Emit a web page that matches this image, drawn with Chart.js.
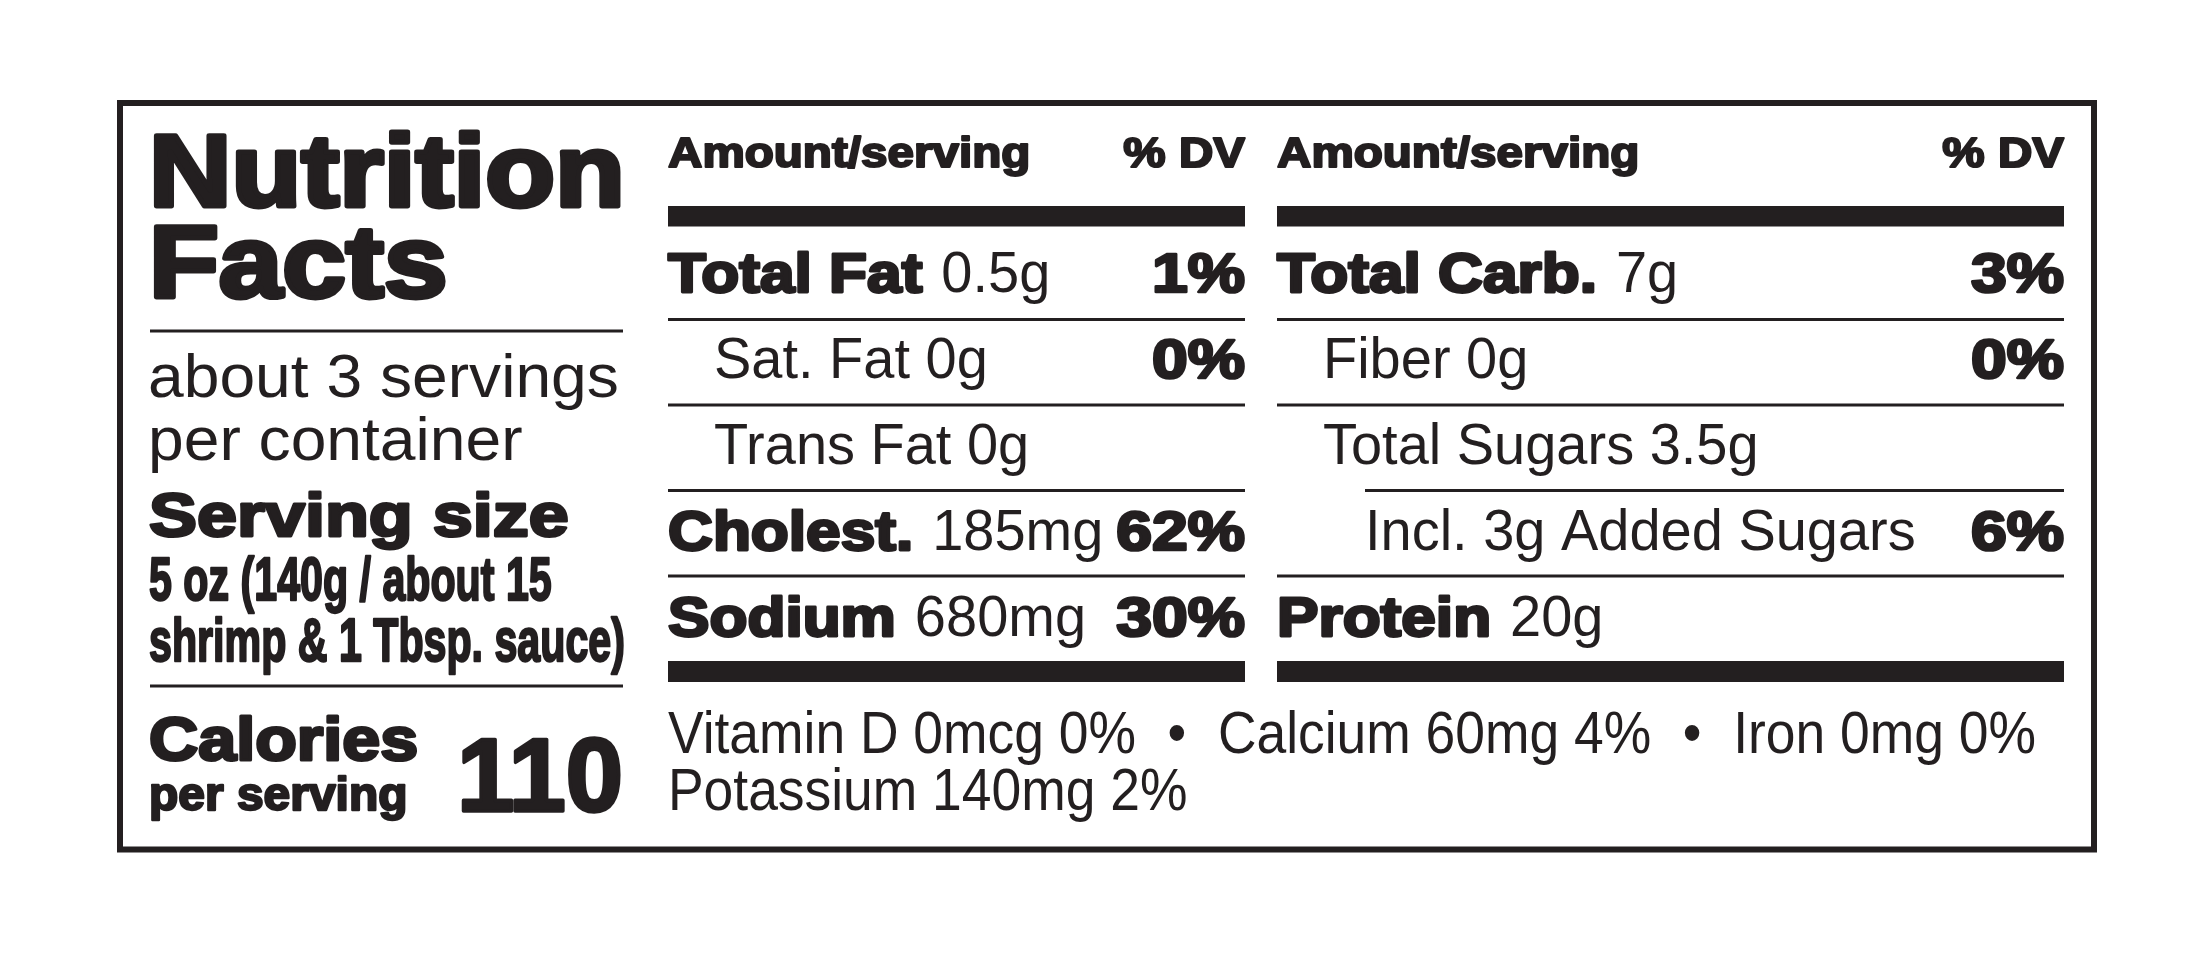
<!DOCTYPE html>
<html>
<head>
<meta charset="utf-8">
<script src="https://cdn.jsdelivr.net/npm/chart.js@4.4.1/dist/chart.umd.min.js"></script>
<style>
html,body{margin:0;padding:0;background:#fff;}
#wrap{width:2200px;height:954px;position:relative;}
</style>
</head>
<body>
<div id="wrap"><canvas id="c"></canvas></div>
<script>
// ---- data ----
const titleLines = ['Nutrition', 'Facts'];
const servingsLines = ['about 3 servings', 'per container'];
const servingSizeLabel = 'Serving size';
const servingSizeLines = ['5 oz (140g / about 15', 'shrimp & 1 Tbsp. sauce)'];
const caloriesLabel = ['Calories', 'per serving'];
const calories = 110;
const headerLabels = ['Amount/serving', '% DV'];

const leftNames   = ['Total Fat', 'Sat. Fat', 'Trans Fat', 'Cholest.', 'Sodium'];
const leftAmounts = ['0.5g', '0g', '0g', '185mg', '680mg'];
const leftDV      = [1, 0, null, 62, 30];
const leftLevel   = [0, 1, 1, 0, 0];

const rightNames   = ['Total Carb.', 'Fiber', 'Total Sugars', 'Incl. 3g Added Sugars', 'Protein'];
const rightAmounts = ['7g', '0g', '3.5g', '', '20g'];
const rightDV      = [3, 0, null, 6, null];
const rightLevel   = [0, 1, 1, 2, 0];

const microNames   = ['Vitamin D', 'Calcium', 'Iron', 'Potassium'];
const microAmounts = ['0mcg', '60mg', '0mg', '140mg'];
const microDV      = [0, 4, 0, 2];
const microLines   = [[0, 1, 2], [3]];

// ---- layout / styles ----
const INK = '#231f20';
const FAM = '"Liberation Sans", Arial, sans-serif';
const ST = {
  title: {w:'bold', size:102, sx:1.12, stroke:5.5},
  head:  {w:'bold', size:42.5, sx:1.12, stroke:2.4},
  name:  {w:'bold', size:55, sx:1.13, stroke:3.2},
  dv:    {w:'bold', size:55, sx:1.17, stroke:3.2},
  reg:   {w:'normal', size:58, sx:0.965, stroke:0},
  side:  {w:'normal', size:62, sx:1.035, stroke:0},
  serv:  {w:'bold', size:62, sx:1.16, stroke:3.4},
  cond:  {w:'bold', size:61, sx:0.675, stroke:1.6},
  cal:   {w:'bold', size:62, sx:1.10, stroke:3.4},
  per:   {w:'bold', size:47, sx:1.02, stroke:2.4},
  big:   {w:'bold', size:104, sx:0.99, stroke:3.5},
  vit:   {w:'normal', size:59, sx:0.905, stroke:0}
};

function txt(ctx, s, x, y, st, align) {
  ctx.save();
  ctx.font = st.w + ' ' + st.size + 'px ' + FAM;
  ctx.textBaseline = 'alphabetic';
  ctx.textAlign = 'left';
  const w = ctx.measureText(s).width * st.sx;
  const x0 = align === 'right' ? x - w : (align === 'center' ? x - w / 2 : x);
  ctx.translate(x0, y);
  ctx.scale(st.sx, 1);
  ctx.fillStyle = INK;
  ctx.fillText(s, 0, 0);
  if (st.stroke) {
    ctx.lineWidth = st.stroke / st.sx;
    ctx.lineJoin = 'round';
    ctx.strokeStyle = INK;
    ctx.strokeText(s, 0, 0);
  }
  ctx.restore();
  return w;
}

const labelPlugin = {
  id: 'label',
  afterDraw(chart) {
    const ctx = chart.ctx;
    const xs = chart.scales.x, ys = chart.scales.y;
    const X = v => xs.getPixelForValue(v);
    const Y = v => ys.getPixelForValue(v);
    const rect = (x1, y1, x2, y2) => {
      ctx.fillStyle = INK;
      ctx.fillRect(X(x1), Y(y1), X(x2) - X(x1), Y(y2) - Y(y1));
    };
    ctx.save();
    // outer frame
    ctx.strokeStyle = INK;
    ctx.lineWidth = 6;
    ctx.strokeRect(X(120), Y(103), X(2094) - X(120), Y(849.5) - Y(103));

    // left column
    const L = 149, LR = 623;
    txt(ctx, titleLines[0], X(L), Y(206), ST.title);
    txt(ctx, titleLines[1], X(L), Y(297), ST.title);
    rect(L + 1, 329.5, LR, 332.5);
    txt(ctx, servingsLines[0], X(L - 1), Y(397), ST.side);
    txt(ctx, servingsLines[1], X(L - 1), Y(460), ST.side);
    txt(ctx, servingSizeLabel, X(L), Y(536), ST.serv);
    txt(ctx, servingSizeLines[0], X(L), Y(600), ST.cond);
    txt(ctx, servingSizeLines[1], X(L), Y(661), ST.cond);
    rect(L + 1, 684.5, LR, 687.5);
    txt(ctx, caloriesLabel[0], X(L), Y(760), ST.cal);
    txt(ctx, caloriesLabel[1], X(L), Y(810), ST.per);
    txt(ctx, String(calories), X(LR), Y(811), ST.big, 'right');

    // nutrient tables
    const rowBase = [292, 378, 464, 550, 636];
    const lineY = [319.5, 405, 490.5, 576];
    const indent = [0, 46, 88];
    const drawTable = (x1, x2, names, amts, dvs, levels) => {
      txt(ctx, headerLabels[0], X(x1), Y(167), ST.head);
      txt(ctx, headerLabels[1], X(x2), Y(167), ST.head, 'right');
      rect(x1, 206, x2, 226.5);
      for (let i = 0; i < names.length; i++) {
        const lv = levels[i];
        const x = x1 + indent[lv];
        let w;
        if (lv === 0) {
          w = txt(ctx, names[i], X(x), Y(rowBase[i]), ST.name);
          if (amts[i]) txt(ctx, amts[i], X(x) + w + 19, Y(rowBase[i]), ST.reg);
        } else {
          const s = amts[i] ? names[i] + ' ' + amts[i] : names[i];
          txt(ctx, s, X(x), Y(rowBase[i]), ST.reg);
        }
        if (dvs[i] !== null) txt(ctx, dvs[i] + '%', X(x2), Y(rowBase[i]), ST.dv, 'right');
        if (i < lineY.length) {
          const nl = levels[i + 1];
          const lx = nl === 2 ? x1 + indent[2] : x1;
          rect(lx, lineY[i] - 1.5, x2, lineY[i] + 1.5);
        }
      }
      rect(x1, 661, x2, 682);
    };
    drawTable(668, 1245, leftNames, leftAmounts, leftDV, leftLevel);
    drawTable(1277, 2064, rightNames, rightAmounts, rightDV, rightLevel);

    // micronutrients
    const microBase = [753, 810];
    microLines.forEach((idxs, li) => {
      let x = X(668);
      idxs.forEach((k, j) => {
        if (j > 0) {
          txt(ctx, '\u2022', x + 41, Y(microBase[li]), ST.vit, 'center');
          x += 82;
        }
        const s = microNames[k] + ' ' + microAmounts[k] + ' ' + microDV[k] + '%';
        x += txt(ctx, s, x, Y(microBase[li]), ST.vit);
      });
    });
    ctx.restore();
  }
};

new Chart(document.getElementById('c'), {
  type: 'scatter',
  data: { datasets: [{ data: [], pointRadius: 0 }] },
  options: {
    responsive: true,
    maintainAspectRatio: false,
    devicePixelRatio: 1,
    animation: false,
    layout: { padding: 0 },
    plugins: { legend: { display: false }, tooltip: { enabled: false } },
    scales: {
      x: { type: 'linear', min: 0, max: 2200, display: false },
      y: { type: 'linear', min: 0, max: 954, reverse: true, display: false }
    }
  },
  plugins: [labelPlugin]
});
</script>
</body>
</html>
